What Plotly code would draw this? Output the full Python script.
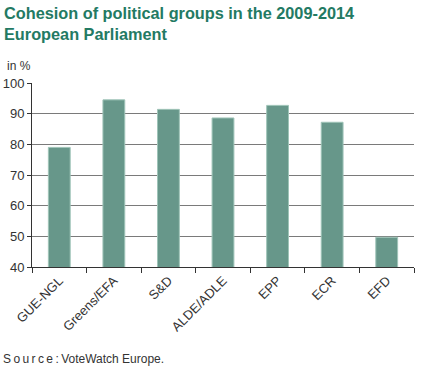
import plotly.graph_objects as go

categories = ["GUE-NGL", "Greens/EFA", "S&D", "ALDE/ADLE", "EPP", "ECR", "EFD"]
cohesion = [79.0, 94.5, 91.4, 88.6, 92.7, 87.2, 49.7]
y_ticks = [40, 50, 60, 70, 80, 90, 100]

fig = go.Figure(go.Bar(
    x=categories, y=cohesion, width=0.4,
    marker=dict(color="#67978a", line=dict(color="#9fc4b8", width=1)),
))

fig.update_layout(
    width=421, height=370,
    margin=dict(l=32, r=7, t=83, b=103),
    plot_bgcolor="white", paper_bgcolor="white",
    font=dict(family="Liberation Sans, Arial, sans-serif", color="#333333", size=12),
    showlegend=False,
    xaxis=dict(
        type="category", tickson="boundaries", ticks="outside", ticklen=5,
        tickcolor="#333333", showline=True, linecolor="#333333", linewidth=1,
        tickangle=-45, tickfont=dict(size=13, color="#333333"),
        showgrid=False, range=[-0.5, 6.5], automargin=False,
    ),
    yaxis=dict(
        range=[40, 100], tickvals=y_ticks, ticks="outside", ticklen=4,
        tickcolor="#333333", showline=True, linecolor="#333333", linewidth=1,
        showgrid=True, gridcolor="#7a7a7a", gridwidth=1,
        tickfont=dict(size=13, color="#333333"), zeroline=False, automargin=False,
    ),
)

fig.add_annotation(
    text="<b>Cohesion of political groups in the 2009-2014</b><br><b>European Parliament</b>",
    xref="paper", yref="paper", x=-30/382, y=1 + (83 - 2) / 184,
    xanchor="left", yanchor="top", align="left", showarrow=False,
    font=dict(size=16.3, color="#237a63", family="Liberation Sans, Arial, sans-serif"),
)
fig.add_annotation(
    text="in %", xref="paper", yref="paper", x=-27/382, y=1 + (83 - 57) / 184,
    xanchor="left", yanchor="top", showarrow=False,
    font=dict(size=12, color="#333333"),
)
fig.add_annotation(
    text="S\u2009o\u2009u\u2009r\u2009c\u2009e\u2009:\u2009VoteWatch Europe.",
    xref="paper", yref="paper", x=-31/382, y=-(350 - 267) / 184,
    xanchor="left", yanchor="top", showarrow=False,
    font=dict(size=12, color="#333333"),
)

fig.write_html("out.html", config={"displayModeBar": False},
               post_script="document.body.style.margin='0';document.body.style.padding='0';")
